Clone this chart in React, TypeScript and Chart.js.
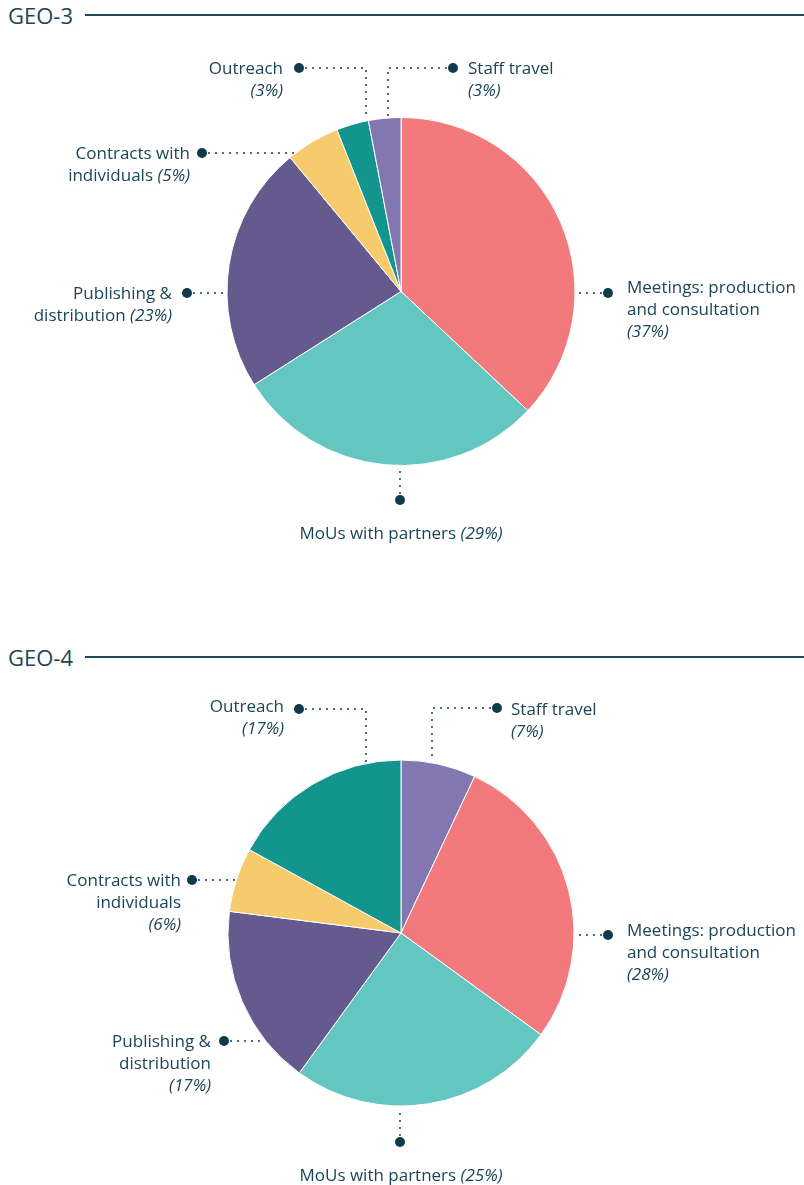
import React, { useEffect, useRef } from 'react';
import { Chart, registerables } from 'chart.js';
Chart.register(...registerables);

// ---- data ----
const geo3Categories = ['Meetings: production and consultation', 'MoUs with partners', 'Publishing & distribution', 'Contracts with individuals', 'Outreach', 'Staff travel'];
const geo3Values = [37, 29, 23, 5, 3, 3];

const geo4Categories = ['Staff travel', 'Meetings: production and consultation', 'MoUs with partners', 'Publishing & distribution', 'Contracts with individuals', 'Outreach'];
const geo4Values = [7, 28, 25, 17, 6, 17];

const categoryColors: Record<string, string> = {
  'Meetings: production and consultation': '#F27A7D',
  'MoUs with partners': '#63C6C1',
  'Publishing & distribution': '#655A8D',
  'Contracts with individuals': '#F6CB6B',
  'Outreach': '#13948C',
  'Staff travel': '#8277B0',
};

// ---- layout ----
const TEXT = '#1b4556';
const DARK = '#0f3b4c';
const FONT = '"Open Sans", sans-serif';
const W = 804;

type Item = {
  cat: string;
  dot: [number, number];
  path: 'h' | 'hv' | 'v';
  elbow?: number;
  align: 'left' | 'right' | 'center';
  x: number;
  y: number;
  lines: string[];
};

const geo3Layout = {
  title: 'GEO-3', headerY: 15, cx: 401, cy: 291.5, r: 174, canvasTop: 30, canvasH: 550,
  items: [
    { cat: 'Outreach', dot: [299, 68], path: 'hv', elbow: 366, align: 'right', x: 283, y: 68, lines: ['Outreach', '{p}'] },
    { cat: 'Staff travel', dot: [453, 68], path: 'hv', elbow: 388, align: 'left', x: 468, y: 68, lines: ['Staff travel', '{p}'] },
    { cat: 'Contracts with individuals', dot: [202, 153], path: 'h', align: 'right', x: 190, y: 153, lines: ['Contracts with', 'individuals {p}'] },
    { cat: 'Publishing & distribution', dot: [187, 293], path: 'h', align: 'right', x: 172, y: 293, lines: ['Publishing &', 'distribution {p}'] },
    { cat: 'Meetings: production and consultation', dot: [608, 293], path: 'h', align: 'left', x: 627, y: 287, lines: ['Meetings: production', 'and consultation', '{p}'] },
    { cat: 'MoUs with partners', dot: [400, 500], path: 'v', align: 'center', x: 401, y: 533, lines: ['MoUs with partners {p}'] },
  ] as Item[],
};

const geo4Layout = {
  title: 'GEO-4', headerY: 657, cx: 401, cy: 933, r: 173, canvasTop: 672, canvasH: 513,
  items: [
    { cat: 'Outreach', dot: [299, 709], path: 'hv', elbow: 366, align: 'right', x: 284, y: 706, lines: ['Outreach', '{p}'] },
    { cat: 'Staff travel', dot: [497, 708], path: 'hv', elbow: 432, align: 'left', x: 511, y: 709, lines: ['Staff travel', '{p}'] },
    { cat: 'Contracts with individuals', dot: [192, 880], path: 'h', align: 'right', x: 181, y: 880, lines: ['Contracts with', 'individuals', '{p}'] },
    { cat: 'Publishing & distribution', dot: [224, 1041], path: 'h', align: 'right', x: 211, y: 1041, lines: ['Publishing &', 'distribution', '{p}'] },
    { cat: 'Meetings: production and consultation', dot: [608, 935], path: 'h', align: 'left', x: 627, y: 930, lines: ['Meetings: production', 'and consultation', '{p}'] },
    { cat: 'MoUs with partners', dot: [400, 1142], path: 'v', align: 'center', x: 401, y: 1175, lines: ['MoUs with partners {p}'] },
  ] as Item[],
};

function makeLeaderPlugin(items: Item[], offsetY: number) {
  return {
    id: 'leaders',
    afterDraw(chart: any) {
      const meta = chart.getDatasetMeta(0);
      const arc = meta.data[0];
      if (!arc) return;
      const cx = arc.x, cy = arc.y, r = arc.outerRadius;
      const ctx = chart.ctx;
      for (const it of items) {
        const dx = it.dot[0];
        const dy = it.dot[1] - offsetY;
        const pts: [number, number][] = [[dx, dy]];
        if (it.path === 'h') {
          const half = Math.sqrt(Math.max(r * r - (dy - cy) ** 2, 0));
          const ex = dx < cx ? cx - half - 2 : cx + half + 2;
          pts.push([ex, dy]);
        } else if (it.path === 'hv') {
          const ex = it.elbow as number;
          pts.push([ex, dy]);
          const half = Math.sqrt(Math.max(r * r - (ex - cx) ** 2, 0));
          pts.push([ex, dy < cy ? cy - half - 2 : cy + half + 2]);
        } else {
          const half = Math.sqrt(Math.max(r * r - (dx - cx) ** 2, 0));
          pts.push([dx, dy < cy ? cy - half - 2 : cy + half + 2]);
        }
        ctx.save();
        ctx.strokeStyle = DARK;
        ctx.fillStyle = DARK;
        ctx.lineWidth = 2;
        ctx.lineCap = 'round';
        ctx.setLineDash([0, 7]);
        ctx.beginPath();
        ctx.moveTo(pts[0][0], pts[0][1]);
        for (let i = 1; i < pts.length; i++) ctx.lineTo(pts[i][0], pts[i][1]);
        ctx.stroke();
        ctx.setLineDash([]);
        ctx.beginPath();
        ctx.arc(dx, dy, 5, 0, Math.PI * 2);
        ctx.fill();
        ctx.restore();
      }
    },
  };
}

function Label({ it, value }: { it: Item; value: number }) {
  const style: React.CSSProperties = {
    position: 'absolute',
    top: it.y - 11,
    fontFamily: FONT,
    fontSize: 17,
    lineHeight: '22px',
    color: TEXT,
    whiteSpace: 'nowrap',
    textAlign: it.align,
  };
  if (it.align === 'left') style.left = it.x;
  else if (it.align === 'right') style.right = W - it.x;
  else { style.left = it.x; style.transform = 'translateX(-50%)'; }
  return (
    <div style={style}>
      {it.lines.map((ln, i) => {
        const parts = ln.split('{p}');
        return (
          <div key={i}>
            {parts.map((p, j) => (
              <React.Fragment key={j}>
                {p}
                {j < parts.length - 1 && <i>({value}%)</i>}
              </React.Fragment>
            ))}
          </div>
        );
      })}
    </div>
  );
}

function PieSection({ layout, categories, values }: { layout: typeof geo3Layout; categories: string[]; values: number[] }) {
  const ref = useRef<HTMLCanvasElement>(null);
  useEffect(() => {
    if (!ref.current) return;
    const { cx, cy, r, canvasTop, canvasH } = layout;
    const pad = {
      left: cx - r - 0.5,
      right: W - (cx + r + 0.5),
      top: cy - canvasTop - r - 0.5,
      bottom: canvasTop + canvasH - (cy + r + 0.5),
    };
    const chart = new Chart(ref.current, {
      type: 'pie',
      data: {
        labels: categories,
        datasets: [{
          data: values,
          backgroundColor: categories.map((c) => categoryColors[c]),
          borderColor: '#ffffff',
          borderWidth: 1,
        }],
      },
      options: {
        responsive: false,
        animation: false,
        events: [],
        layout: { padding: pad },
        plugins: { legend: { display: false }, tooltip: { enabled: false } },
      },
      plugins: [makeLeaderPlugin(layout.items, canvasTop)],
    });
    return () => chart.destroy();
  }, []);

  return (
    <>
      <div style={{ position: 'absolute', left: 8, top: layout.headerY - 15, height: 30, lineHeight: '30px', fontFamily: FONT, fontSize: 22, color: TEXT }}>
        {layout.title}
      </div>
      <div style={{ position: 'absolute', left: 85, right: 0, top: layout.headerY - 1, height: 2, background: '#1d4b5b' }} />
      <canvas
        ref={ref}
        width={W}
        height={layout.canvasH}
        style={{ position: 'absolute', left: 0, top: layout.canvasTop, width: W, height: layout.canvasH }}
      />
      {layout.items.map((it) => (
        <Label key={it.cat} it={it} value={values[categories.indexOf(it.cat)]} />
      ))}
    </>
  );
}

export default function App() {
  return (
    <div style={{ position: 'absolute', left: 0, top: 0, width: W, height: 1185, background: '#fff', overflow: 'hidden' }}>
      <PieSection layout={geo3Layout} categories={geo3Categories} values={geo3Values} />
      <PieSection layout={geo4Layout} categories={geo4Categories} values={geo4Values} />
    </div>
  );
}
